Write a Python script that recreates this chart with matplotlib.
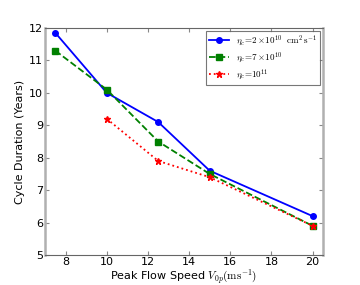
import matplotlib
matplotlib.use("Agg")
import matplotlib.pyplot as plt

speed_blue = [7.5, 10, 12.5, 15, 20]
dur_blue = [11.85, 10.0, 9.1, 7.6, 6.2]
speed_green = [7.5, 10, 12.5, 15, 20]
dur_green = [11.3, 10.1, 8.5, 7.5, 5.9]
speed_red = [10, 12.5, 15, 20]
dur_red = [9.2, 7.9, 7.4, 5.9]

plt.rcParams['mathtext.fontset'] = 'cm'
fig = plt.figure(figsize=(3.6, 2.85), dpi=100)
ax = fig.add_axes([0.125, 0.105, 0.772, 0.797])

ax.plot(speed_blue, dur_blue, '-o', color='blue', lw=1.3, ms=4,
        label=r'$\eta_c\!=\!2\times\!10^{10}\ \ \mathrm{cm^2\,s^{-1}}$')
ax.plot(speed_green, dur_green, '--s', color='green', lw=1.3, ms=4,
        label=r'$\eta_c\!=\!7\times\!10^{10}$')
ax.plot(speed_red, dur_red, ':*', color='red', lw=1.3, ms=5,
        label=r'$\eta_c\!=\!10^{11}$')

ax.set_xlim(7, 20.5)
ax.set_ylim(5, 12)
ax.set_xticks([8, 10, 12, 14, 16, 18, 20])
ax.set_yticks(range(5, 13))
ax.tick_params(direction='in', top=True, right=True, labelsize=8, length=3,
               pad=1.5, color='#888888')
for side in ['left', 'right']:
    ax.spines[side].set_color('#b0b0b0')
    ax.spines[side].set_linewidth(1.8)
for side in ['top', 'bottom']:
    ax.spines[side].set_color('#666666')
    ax.spines[side].set_linewidth(0.8)

ax.set_xlabel(r'Peak Flow Speed $V_{0p}(\mathrm{ms^{-1}})$', fontsize=8, labelpad=0.5)
ax.set_ylabel('Cycle Duration (Years)', fontsize=8, labelpad=3)

leg = ax.legend(loc='upper right', fontsize=6.5, fancybox=False, edgecolor='#555555',
                borderaxespad=0.3, handlelength=2.2, labelspacing=0.25,
                borderpad=0.35)
leg.get_frame().set_linewidth(0.8)

fig.savefig('out.png', dpi=100)
